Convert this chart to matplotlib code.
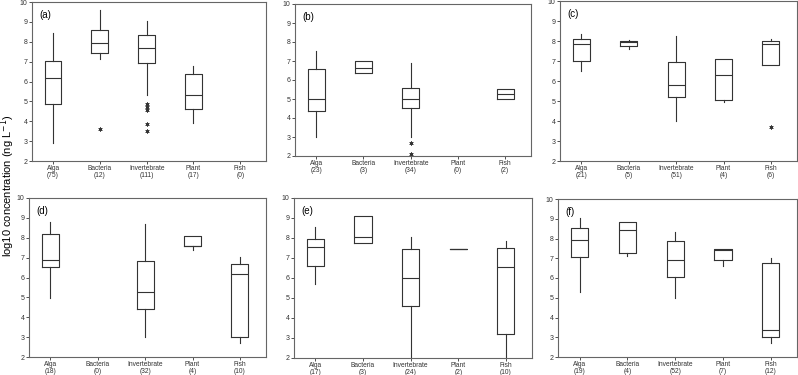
import matplotlib
matplotlib.use("Agg")
import matplotlib.pyplot as plt

plt.rcParams['font.family'] = ['Liberation Sans', 'DejaVu Sans']

# === DADOS ===
categorias = ['Alga', 'Bacteria', 'Invertebrate', 'Plant', 'Fish']
paineis = ['(a)', '(b)', '(c)', '(d)', '(e)', '(f)']

# (a)
a_n = [75, 12, 111, 17, 0]
a_lo = [2.92, 7.14, 5.31, 3.91, None]
a_q1 = [4.88, 7.42, 6.95, 4.63, None]
a_med = [6.2, 7.96, 7.69, 5.33, None]
a_q3 = [7.05, 8.58, 8.36, 6.4, None]
a_hi = [8.46, 9.62, 9.03, 6.77, None]
a_out = [[], [3.59], [4.86, 4.72, 4.58, 3.86, 3.52], [], []]

# (b)
b_n = [23, 3, 34, 0, 2]
b_lo = [3.0, 6.35, 3.02, None, 5.0]
b_q1 = [4.37, 6.35, 4.51, None, 5.0]
b_med = [5.0, 6.65, 5.0, None, 5.25]
b_q3 = [6.56, 7.02, 5.56, None, 5.51]
b_hi = [7.53, 7.02, 6.91, None, 5.51]
b_out = [[], [], [2.67, 2.08], [], []]

# (c)
c_n = [21, 5, 51, 4, 6]
c_lo = [6.5, 7.62, 4.0, 4.95, 6.78]
c_q1 = [6.98, 7.73, 5.2, 5.07, 6.78]
c_med = [7.87, 7.95, 5.82, 6.32, 7.87]
c_q3 = [8.1, 7.98, 6.93, 7.08, 8.02]
c_hi = [8.37, 8.07, 8.25, 7.08, 8.12]
c_out = [[], [], [], [], [3.7]]

# (d)
d_n = [18, 0, 32, 4, 10]
d_lo = [4.97, None, 2.99, 7.4, 2.7]
d_q1 = [6.53, None, 4.41, 7.58, 2.99]
d_med = [6.86, None, 5.27, 7.58, 6.17]
d_q3 = [8.19, None, 6.81, 8.07, 6.68]
d_hi = [8.79, None, 8.69, 8.07, 7.03]
d_out = [[], [], [], [], []]

# (e)
e_n = [17, 3, 24, 2, 10]
e_lo = [5.7, 7.74, 2.0, 7.44, 2.0]
e_q1 = [6.59, 7.74, 4.61, 7.44, 3.22]
e_med = [7.57, 8.04, 5.98, 7.44, 6.55]
e_q3 = [7.96, 9.11, 7.46, 7.44, 7.49]
e_hi = [8.54, 9.11, 8.04, 7.44, 7.87]
e_out = [[], [], [], [], []]

# (f)
f_n = [19, 4, 52, 7, 12]
f_lo = [5.29, 7.12, 4.98, 6.63, 2.71]
f_q1 = [7.05, 7.29, 6.04, 6.9, 3.01]
f_med = [7.9, 8.43, 6.9, 7.41, 3.35]
f_q3 = [8.55, 8.86, 7.85, 7.46, 6.75]
f_hi = [9.02, 8.86, 8.35, 7.46, 7.0]
f_out = [[], [], [], [], []]

dados = [
    (a_n, a_lo, a_q1, a_med, a_q3, a_hi, a_out),
    (b_n, b_lo, b_q1, b_med, b_q3, b_hi, b_out),
    (c_n, c_lo, c_q1, c_med, c_q3, c_hi, c_out),
    (d_n, d_lo, d_q1, d_med, d_q3, d_hi, d_out),
    (e_n, e_lo, e_q1, e_med, e_q3, e_hi, e_out),
    (f_n, f_lo, f_q1, f_med, f_q3, f_hi, f_out),
]

# posições dos eixos em pixels (esquerda, direita, topo, base)
caixas_px = [
    (32, 266, 2, 161), (295, 531, 4, 156), (560, 797, 1, 161),
    (29, 266, 198, 357), (294, 532, 198, 358), (558, 797, 199, 357),
]

W, H = 798, 375
COR = '#333333'
fig = plt.figure(figsize=(W / 100, H / 100), dpi=100)

for painel, (n, lo, q1, med, q3, hi, out), (x0, x1, y0, y1) in zip(paineis, dados, caixas_px):
    ax = fig.add_axes([x0 / W, 1 - y1 / H, (x1 - x0) / W, (y1 - y0) / H])
    stats = []
    pos = []
    for i in range(len(categorias)):
        if med[i] is None:
            continue
        stats.append(dict(med=med[i], q1=q1[i], q3=q3[i], whislo=lo[i], whishi=hi[i], fliers=out[i]))
        pos.append(i + 1)
    ax.bxp(stats, positions=pos, widths=0.36, showcaps=False,
           boxprops=dict(color=COR, lw=0.8),
           whiskerprops=dict(color=COR, lw=0.8),
           medianprops=dict(color=COR, lw=0.8),
           flierprops=dict(marker=(6, 2, 0), markersize=3, markeredgecolor=COR,
                           markeredgewidth=0.5, linestyle='none'))
    ax.set_xlim(0.55, 5.55)
    ax.set_ylim(2, 10)
    ax.set_yticks(range(2, 11))
    ax.set_xticks(range(1, 6))
    ax.set_xticklabels([f'{c}\n({k})' for c, k in zip(categorias, n)], fontsize=4.8, linespacing=1.0)
    ax.tick_params(axis='y', labelsize=5, length=2, width=0.6, pad=1.2, colors=COR)
    ax.tick_params(axis='x', length=2, width=0.6, pad=0.8, colors=COR)
    for sp in ax.spines.values():
        sp.set_color('#666666')
        sp.set_linewidth(0.8)
    ax.text(0.03, 0.95, painel, transform=ax.transAxes, fontsize=7, va='top', ha='left')

fig.text(0.0098, 0.505, 'log10 concentration (ng L$^{-1}$)', rotation=90, fontsize=8,
         ha='center', va='center')

fig.savefig('out.png', dpi=100)
